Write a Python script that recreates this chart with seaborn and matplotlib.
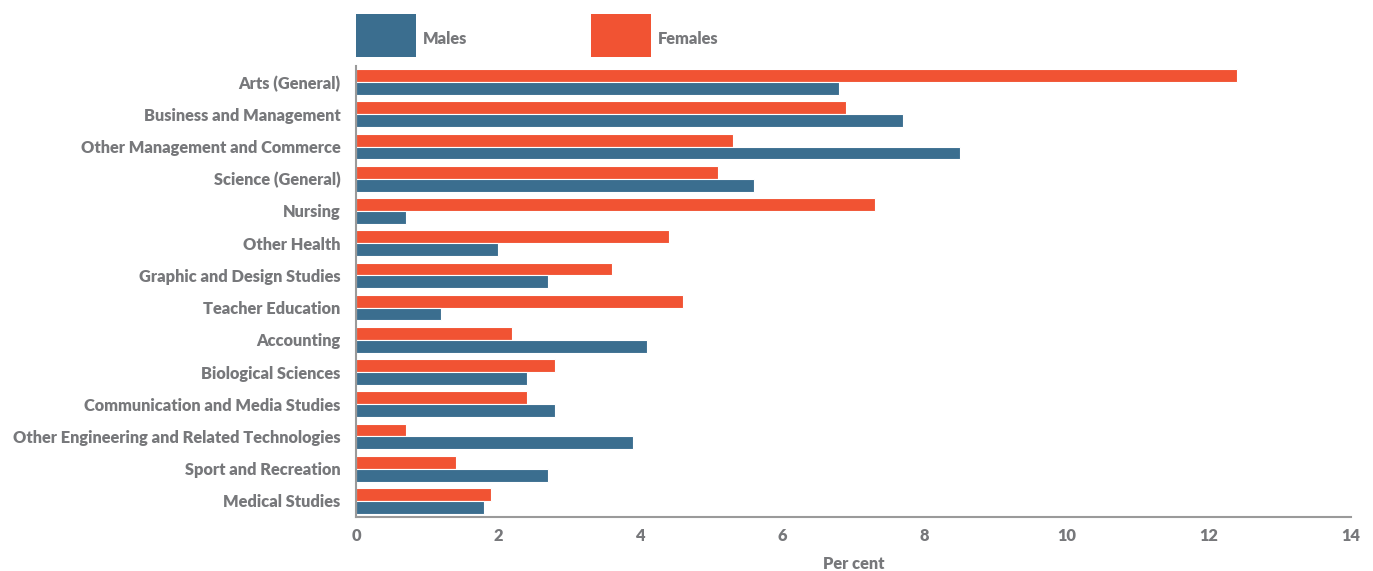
import matplotlib
matplotlib.use("Agg")
import matplotlib.pyplot as plt
import seaborn as sns
import pandas as pd

categories = [
    "Arts (General)",
    "Business and Management",
    "Other Management and Commerce",
    "Science (General)",
    "Nursing",
    "Other Health",
    "Graphic and Design Studies",
    "Teacher Education",
    "Accounting",
    "Biological Sciences",
    "Communication and Media Studies",
    "Other Engineering and Related Technologies",
    "Sport and Recreation",
    "Medical Studies",
]
females = [12.4, 6.9, 5.3, 5.1, 7.3, 4.4, 3.6, 4.6, 2.2, 2.8, 2.4, 0.7, 1.4, 1.9]
males = [6.8, 7.7, 8.5, 5.6, 0.7, 2.0, 2.7, 1.2, 4.1, 2.4, 2.8, 3.9, 2.7, 1.8]
x_ticks = [0, 2, 4, 6, 8, 10, 12, 14]

BLUE = "#3B6E8F"
RED = "#F15333"
GRAY = "#77787B"
FS = 11.8
W = "heavy"

df = pd.DataFrame({
    "Field": categories * 2,
    "Sex": ["Females"] * len(categories) + ["Males"] * len(categories),
    "Per cent": females + males,
})

sns.set_theme(style="white")
plt.rcParams["font.family"] = ["Lato", "DejaVu Sans"]
plt.rcParams["font.weight"] = W

fig = plt.figure(figsize=(13.73, 5.71), dpi=100)
ax = fig.add_axes([356 / 1373, 1 - 517 / 571, (1351 - 356) / 1373, (517 - 66) / 571])

sns.barplot(data=df, y="Field", x="Per cent", hue="Sex", order=categories,
            hue_order=["Females", "Males"], palette={"Females": RED, "Males": BLUE},
            orient="h", width=0.8, edgecolor="white", linewidth=0.8, ax=ax,
            saturation=1)

ax.set_xlim(0, 14)
ax.set_xticks(x_ticks)
ax.set_xticklabels([str(t) for t in x_ticks])
ax.set_ylim(len(categories) - 0.5, -0.5)
ax.set_ylabel("")
ax.set_xlabel("Per cent", fontsize=FS, color=GRAY, fontweight=W, labelpad=8.5)

for s in ["top", "right"]:
    ax.spines[s].set_visible(False)
for s in ["left", "bottom"]:
    ax.spines[s].set_color("#9A9A9A")
    ax.spines[s].set_linewidth(1.5)

ax.tick_params(axis="x", direction="in", length=8, width=1.2, color="#333333",
               labelsize=FS, labelcolor=GRAY, pad=8)
ax.tick_params(axis="y", direction="in", length=18, width=1.2, color="#111111",
               labelsize=FS, labelcolor=GRAY, pad=11)
for lab in ax.get_xticklabels() + ax.get_yticklabels():
    lab.set_fontweight(W)

handles, labels = ax.get_legend_handles_labels()
order = [labels.index("Males"), labels.index("Females")]
leg = ax.legend([handles[i] for i in order], [labels[i] for i in order],
                loc="lower left", bbox_to_anchor=(356 / 1373, 1 - 57 / 571),
                bbox_transform=fig.transFigure, ncol=2, frameon=False,
                handlelength=60 / (FS * 100 / 72), handleheight=3.7,
                handletextpad=0.4, columnspacing=7.6, borderpad=0,
                borderaxespad=0, prop={"size": FS, "weight": W})
for t in leg.get_texts():
    t.set_color(GRAY)
    t.set_y(-4)
for h in leg.legend_handles:
    h.set_edgecolor("none")

fig.savefig("out.png", dpi=100)
